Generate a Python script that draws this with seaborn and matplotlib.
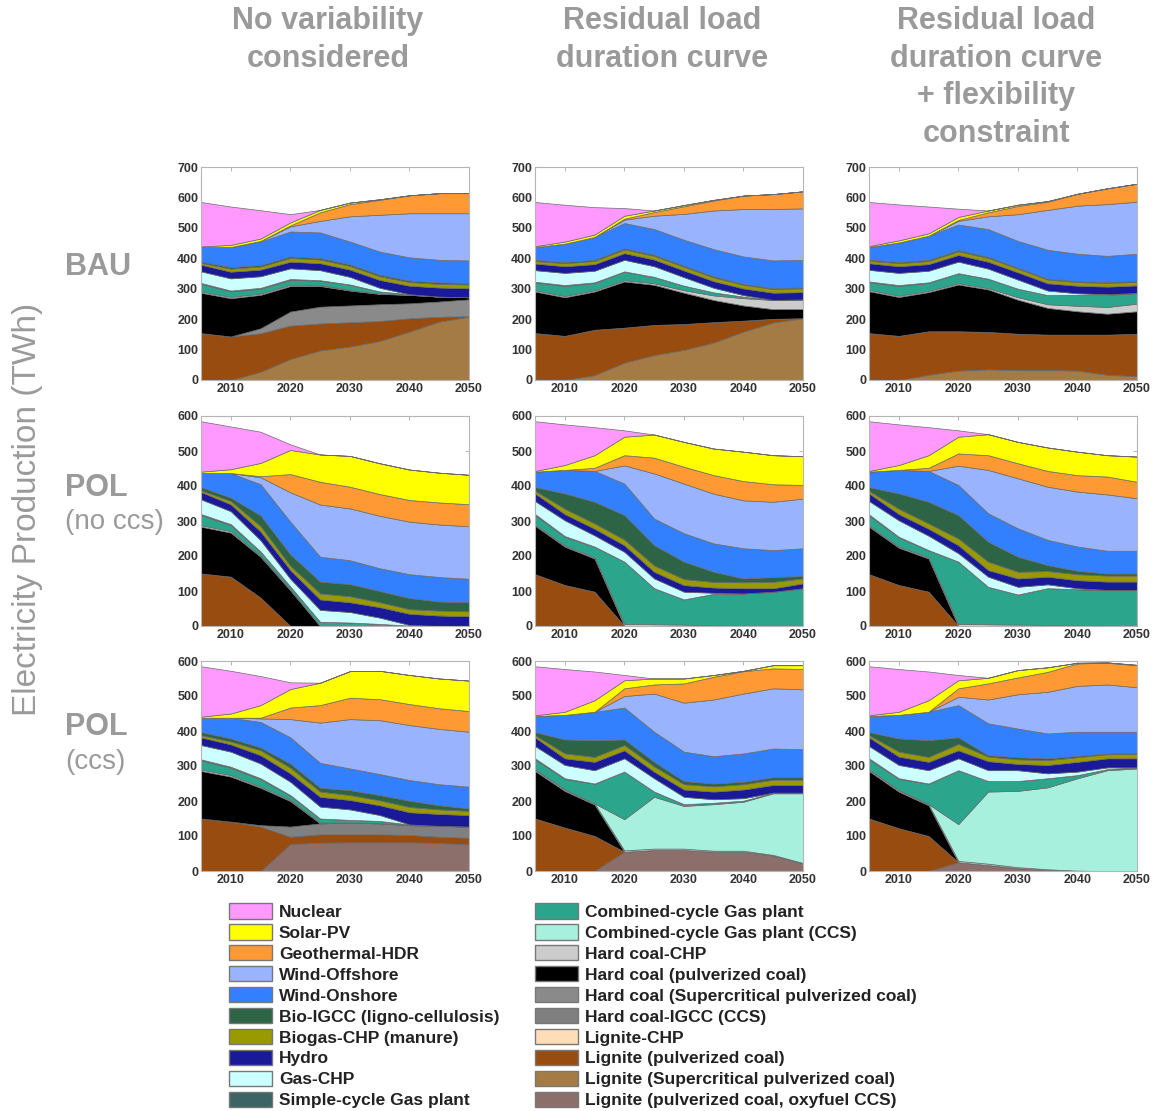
import seaborn as sns
import matplotlib.pyplot as plt
from matplotlib.patches import Patch

# years on the x axis
years = [2005, 2010, 2015, 2020, 2025, 2030, 2035, 2040, 2045, 2050]

# legend order (top of the stack first)
keys = ["nuc", "pv", "geo", "woff", "won", "bioigcc", "biogas", "hydro", "gaschp", "ocgt",
        "ccgt", "ccgt_ccs", "hc_chp", "hc_pc", "hc_sc", "hc_igcc", "lig_chp", "lig_pc",
        "lig_sc", "lig_oxy"]
labels = ["Nuclear", "Solar-PV", "Geothermal-HDR", "Wind-Offshore", "Wind-Onshore",
          "Bio-IGCC (ligno-cellulosis)", "Biogas-CHP (manure)", "Hydro", "Gas-CHP",
          "Simple-cycle Gas plant", "Combined-cycle Gas plant",
          "Combined-cycle Gas plant (CCS)", "Hard coal-CHP", "Hard coal (pulverized coal)",
          "Hard coal (Supercritical pulverized coal)", "Hard coal-IGCC (CCS)",
          "Lignite-CHP", "Lignite (pulverized coal)",
          "Lignite (Supercritical pulverized coal)", "Lignite (pulverized coal, oxyfuel CCS)"]
colors = ["#FF99FF", "#FFFF00", "#FF9933", "#99B3FF", "#3380FF", "#2D6446", "#999900",
          "#1A1A99", "#CCFFFF", "#3C6464", "#2CA58D", "#A8F0DE", "#CCCCCC", "#000000",
          "#8A8A8A", "#808080", "#FFDDB8", "#994C0F", "#A57B45", "#8C6F6B"]

# TWh per technology, one dict per scenario / model version
bau_novar = {
    "lig_sc": [0, 0, 27, 69, 97, 110, 128, 159, 192, 208],
    "lig_pc": [154, 143, 127, 110, 89, 80, 66, 44, 16, 2],
    "hc_sc": [0, 0, 16, 46, 55, 55, 55, 49, 50, 55],
    "hc_pc": [133, 126, 110, 84, 68, 49, 34, 28, 16, 7],
    "hc_chp": [4, 4, 4, 4, 3, 2, 1, 0, 0, 0],
    "ccgt": [25, 18, 16, 16, 14, 17, 7, 2, 0, 0],
    "ocgt": [3, 3, 3, 3, 2, 1, 0, 0, 0, 0],
    "gaschp": [38, 40, 38, 35, 33, 25, 12, 0, 0, 0],
    "hydro": [22, 22, 22, 22, 23, 24, 26, 28, 30, 30],
    "biogas": [6, 10, 10, 12, 12, 12, 12, 12, 12, 12],
    "bioigcc": [4, 5, 5, 5, 5, 5, 5, 5, 5, 5],
    "won": [48, 66, 77, 82, 84, 75, 76, 76, 74, 74],
    "woff": [0, 0, 2, 17, 38, 83, 121, 145, 153, 155],
    "geo": [0, 0, 0, 3, 28, 40, 49, 59, 66, 66],
    "pv": [2, 7, 8, 10, 8, 5, 2, 0, 0, 0],
    "nuc": [146, 126, 93, 27, 0, 0, 0, 0, 0, 0],
}
bau_rldc = {
    "lig_sc": [0, 0, 16, 57, 82, 99, 123, 159, 189, 203],
    "lig_pc": [154, 145, 149, 115, 99, 85, 67, 36, 12, 0],
    "hc_pc": [137, 127, 126, 152, 132, 103, 73, 50, 32, 30],
    "hc_chp": [4, 4, 4, 4, 5, 8, 15, 24, 30, 32],
    "ccgt": [25, 33, 24, 28, 20, 15, 10, 5, 0, 0],
    "ocgt": [3, 3, 2, 1, 1, 0, 0, 0, 0, 0],
    "gaschp": [38, 40, 38, 38, 35, 28, 15, 5, 0, 0],
    "hydro": [22, 22, 22, 22, 22, 22, 22, 22, 24, 24],
    "biogas": [8, 10, 10, 12, 12, 12, 12, 12, 12, 12],
    "bioigcc": [4, 4, 4, 4, 4, 4, 4, 3, 3, 3],
    "won": [42, 60, 75, 83, 84, 85, 89, 90, 91, 91],
    "woff": [0, 0, 0, 11, 44, 85, 127, 156, 169, 169],
    "geo": [0, 0, 0, 3, 12, 25, 33, 44, 49, 56],
    "pv": [3, 7, 8, 10, 5, 4, 2, 0, 0, 0],
    "nuc": [145, 121, 90, 25, 0, 0, 0, 0, 0, 0],
}
bau_flex = {
    "lig_sc": [0, 0, 17, 31, 35, 33, 33, 31, 17, 13],
    "lig_pc": [154, 145, 143, 129, 123, 119, 116, 118, 132, 139],
    "hc_pc": [138, 128, 129, 154, 140, 112, 88, 77, 69, 74],
    "hc_chp": [4, 4, 4, 4, 4, 8, 12, 18, 22, 25],
    "ccgt": [25, 32, 26, 32, 30, 28, 30, 36, 40, 35],
    "ocgt": [3, 3, 2, 1, 1, 0, 0, 0, 0, 0],
    "gaschp": [38, 40, 38, 38, 33, 30, 15, 5, 2, 0],
    "hydro": [22, 22, 22, 22, 23, 24, 24, 25, 25, 25],
    "biogas": [8, 10, 10, 12, 12, 12, 12, 12, 12, 12],
    "bioigcc": [4, 4, 4, 4, 4, 3, 3, 3, 3, 3],
    "won": [41, 64, 79, 84, 91, 88, 95, 90, 86, 89],
    "woff": [0, 0, 0, 12, 42, 88, 131, 158, 170, 171],
    "geo": [0, 0, 0, 3, 13, 27, 27, 39, 52, 59],
    "pv": [3, 7, 8, 10, 6, 4, 2, 0, 0, 0],
    "nuc": [145, 118, 88, 27, 0, 0, 0, 0, 0, 0],
}
pol_noccs_novar = {
    "lig_pc": [150, 141, 81, 0, 0, 0, 0, 0, 0, 0],
    "hc_pc": [134, 126, 117, 102, 0, 0, 0, 0, 0, 0],
    "hc_chp": [4, 4, 3, 3, 0, 0, 0, 0, 0, 0],
    "ccgt": [29, 17, 11, 8, 12, 10, 6, 1, 0, 0],
    "ocgt": [3, 3, 1, 0, 0, 0, 0, 0, 0, 0],
    "gaschp": [42, 37, 32, 22, 34, 30, 18, 2, 0, 0],
    "hydro": [21, 20, 25, 25, 30, 28, 30, 32, 30, 28],
    "biogas": [5, 9, 15, 12, 17, 17, 14, 13, 14, 14],
    "bioigcc": [9, 10, 31, 33, 34, 35, 32, 32, 26, 26],
    "won": [40, 70, 89, 93, 71, 68, 65, 68, 70, 67],
    "woff": [0, 0, 20, 84, 149, 148, 150, 150, 150, 150],
    "geo": [0, 0, 3, 52, 65, 62, 62, 62, 63, 63],
    "pv": [4, 11, 38, 69, 78, 88, 88, 87, 85, 84],
    "nuc": [144, 122, 89, 16, 0, 0, 0, 0, 0, 0],
}
pol_noccs_rldc = {
    "lig_pc": [148, 117, 98, 0, 0, 0, 0, 0, 0, 0],
    "hc_pc": [139, 110, 95, 0, 0, 0, 0, 0, 0, 0],
    "hc_chp": [3, 3, 3, 6, 5, 4, 2, 1, 0, 0],
    "ccgt": [27, 25, 30, 178, 103, 72, 90, 92, 98, 108],
    "ocgt": [3, 2, 1, 0, 0, 0, 0, 0, 0, 0],
    "gaschp": [37, 45, 32, 28, 28, 22, 3, 0, 0, 0],
    "hydro": [22, 18, 19, 19, 19, 19, 15, 15, 10, 14],
    "biogas": [7, 15, 15, 16, 18, 17, 16, 17, 18, 14],
    "bioigcc": [11, 44, 62, 70, 58, 50, 29, 11, 14, 7],
    "won": [44, 67, 88, 90, 76, 81, 81, 86, 77, 79],
    "woff": [0, 0, 0, 52, 129, 142, 142, 137, 138, 142],
    "geo": [0, 0, 9, 29, 45, 48, 53, 55, 50, 39],
    "pv": [2, 14, 36, 53, 66, 71, 76, 84, 83, 82],
    "nuc": [142, 116, 80, 18, 0, 0, 0, 0, 0, 0],
}
pol_noccs_flex = {
    "lig_pc": [148, 117, 98, 0, 0, 0, 0, 0, 0, 0],
    "hc_pc": [136, 107, 95, 0, 0, 0, 0, 0, 0, 0],
    "hc_chp": [3, 3, 3, 6, 5, 4, 3, 2, 1, 0],
    "ccgt": [29, 26, 20, 178, 107, 86, 105, 103, 102, 103],
    "ocgt": [3, 2, 1, 0, 0, 0, 0, 0, 0, 0],
    "gaschp": [38, 47, 41, 24, 29, 22, 11, 3, 0, 0],
    "hydro": [22, 18, 20, 23, 19, 24, 22, 23, 24, 24],
    "biogas": [7, 15, 15, 19, 24, 19, 16, 17, 17, 17],
    "bioigcc": [11, 44, 62, 67, 57, 43, 17, 10, 6, 6],
    "won": [44, 67, 88, 86, 81, 81, 72, 69, 65, 65],
    "woff": [0, 0, 0, 55, 124, 143, 152, 157, 161, 150],
    "geo": [0, 0, 9, 35, 42, 43, 45, 47, 51, 47],
    "pv": [2, 14, 36, 48, 60, 61, 67, 67, 61, 72],
    "nuc": [142, 116, 80, 18, 0, 0, 0, 0, 0, 0],
}
pol_ccs_novar = {
    "lig_oxy": [0, 0, 0, 77, 81, 82, 82, 82, 80, 76],
    "lig_pc": [150, 141, 127, 21, 24, 23, 23, 21, 18, 19],
    "hc_igcc": [0, 0, 4, 29, 31, 33, 31, 28, 31, 32],
    "hc_pc": [136, 129, 107, 73, 0, 0, 0, 0, 0, 0],
    "hc_chp": [4, 4, 3, 3, 2, 1, 1, 0, 0, 0],
    "ccgt": [26, 21, 21, 12, 11, 7, 6, 2, 0, 0],
    "ocgt": [3, 3, 3, 2, 1, 0, 0, 0, 0, 0],
    "gaschp": [41, 43, 42, 38, 34, 30, 17, 0, 0, 0],
    "hydro": [22, 21, 24, 24, 28, 27, 28, 35, 34, 33],
    "biogas": [6, 8, 14, 16, 15, 14, 14, 15, 13, 12],
    "bioigcc": [9, 9, 8, 12, 11, 14, 15, 18, 12, 7],
    "won": [41, 59, 73, 75, 71, 62, 60, 59, 60, 62],
    "woff": [0, 0, 10, 52, 115, 141, 154, 157, 158, 157],
    "geo": [0, 0, 2, 33, 50, 61, 60, 60, 59, 59],
    "pv": [3, 12, 36, 53, 64, 76, 81, 83, 85, 87],
    "nuc": [144, 122, 83, 19, 0, 0, 0, 0, 0, 0],
}
pol_ccs_rldc = {
    "lig_oxy": [0, 0, 0, 55, 60, 60, 55, 55, 44, 22],
    "lig_pc": [150, 124, 100, 0, 0, 0, 0, 0, 0, 0],
    "hc_pc": [136, 105, 90, 0, 0, 0, 0, 0, 0, 0],
    "hc_chp": [4, 4, 3, 4, 4, 4, 3, 3, 2, 1],
    "ccgt_ccs": [0, 0, 0, 89, 148, 122, 133, 140, 176, 199],
    "ccgt": [29, 30, 56, 136, 15, 5, 4, 3, 2, 2],
    "ocgt": [3, 2, 1, 0, 0, 0, 0, 0, 0, 0],
    "gaschp": [35, 38, 38, 38, 38, 21, 10, 7, 0, 0],
    "hydro": [25, 19, 24, 23, 19, 21, 22, 25, 22, 22],
    "biogas": [6, 14, 14, 15, 15, 15, 15, 15, 15, 15],
    "bioigcc": [9, 40, 48, 16, 13, 9, 8, 7, 7, 7],
    "won": [46, 70, 81, 91, 86, 84, 78, 81, 82, 80],
    "woff": [0, 0, 0, 33, 109, 140, 162, 171, 172, 171],
    "geo": [0, 0, 0, 22, 26, 55, 65, 64, 57, 58],
    "pv": [2, 9, 33, 23, 17, 14, 5, 1, 9, 11],
    "nuc": [140, 122, 82, 15, 0, 0, 0, 0, 0, 0],
}
pol_ccs_flex = {
    "lig_oxy": [0, 0, 0, 25, 17, 8, 3, 0, 0, 0],
    "lig_pc": [150, 122, 100, 0, 0, 0, 0, 0, 0, 0],
    "hc_pc": [136, 105, 88, 0, 0, 0, 0, 0, 0, 0],
    "hc_chp": [4, 4, 3, 4, 4, 3, 2, 1, 0, 0],
    "ccgt_ccs": [0, 0, 0, 105, 206, 218, 234, 264, 288, 293],
    "ccgt": [29, 32, 58, 154, 30, 28, 26, 9, 3, 3],
    "ocgt": [3, 2, 1, 0, 0, 0, 0, 0, 0, 0],
    "gaschp": [35, 38, 38, 34, 31, 31, 14, 10, 5, 0],
    "hydro": [25, 24, 24, 23, 26, 18, 24, 28, 26, 26],
    "biogas": [6, 14, 14, 18, 13, 13, 14, 13, 12, 12],
    "bioigcc": [9, 38, 48, 19, 4, 6, 5, 4, 2, 4],
    "won": [46, 67, 81, 92, 91, 82, 71, 69, 62, 60],
    "woff": [0, 0, 0, 24, 68, 98, 119, 131, 135, 127],
    "geo": [0, 0, 0, 24, 46, 48, 57, 64, 62, 63],
    "pv": [2, 9, 33, 23, 16, 21, 13, 2, 1, 1],
    "nuc": [140, 122, 82, 15, 0, 0, 0, 0, 0, 0],
}

col_titles = ["No variability\nconsidered", "Residual load\nduration curve",
              "Residual load\nduration curve\n+ flexibility\nconstraint"]
panels = [[bau_novar, bau_rldc, bau_flex],
          [pol_noccs_novar, pol_noccs_rldc, pol_noccs_flex],
          [pol_ccs_novar, pol_ccs_rldc, pol_ccs_flex]]
ymax = [700, 600, 600]

sns.set_theme(style="white")
plt.rcParams["font.family"] = ["Liberation Sans", "DejaVu Sans"]

W, H = 1156, 1111
fig = plt.figure(figsize=(W / 100, H / 100), dpi=100)
grey = "#9a9a9a"

col_left = [201, 535, 869]
row_box = [(167, 380), (416, 626), (661, 871)]
color_of = dict(zip(keys, colors))

for r in range(3):
    top, bot = row_box[r]
    for c in range(3):
        ax = fig.add_axes([col_left[c] / W, 1 - bot / H, 268 / W, (bot - top) / H])
        data = panels[r][c]
        stack = [k for k in reversed(keys) if k in data]
        ax.stackplot(years, [data[k] for k in stack],
                     colors=[color_of[k] for k in stack],
                     edgecolor="#6a6a6a", linewidth=0.5)
        ax.set_xlim(2005, 2050)
        ax.set_ylim(0, ymax[r])
        ax.set_xticks([2010, 2020, 2030, 2040, 2050],
                      labels=["2010", "2020", "2030", "2040", "2050"],
                      fontsize=9, fontweight="bold", color="#333333")
        yt = list(range(0, ymax[r] + 1, 100))
        ax.set_yticks(yt, labels=[str(v) for v in yt],
                      fontsize=9, fontweight="bold", color="#333333")
        ax.tick_params(direction="in", top=True, right=True, length=3,
                       width=0.6, color="#aaaaaa", pad=2)
        for s in ax.spines.values():
            s.set_color("#b5b5b5")
            s.set_linewidth(0.8)

# column headers
for c, t in enumerate(col_titles):
    fig.text((col_left[c] + 127) / W, 1 - 6 / H, t,
             ha="center", va="top", fontsize=22, fontweight="bold",
             color=grey, linespacing=1.33)

# row headers
fig.text(65 / W, 1 - 267 / H, "BAU", ha="left", va="center",
         fontsize=22, fontweight="bold", color=grey)
fig.text(65 / W, 1 - 488 / H, "POL", ha="left", va="center",
         fontsize=22, fontweight="bold", color=grey)
fig.text(65 / W, 1 - 522 / H, "(no ccs)", ha="left", va="center",
         fontsize=20, color=grey)
fig.text(65 / W, 1 - 727 / H, "POL", ha="left", va="center",
         fontsize=22, fontweight="bold", color=grey)
fig.text(65 / W, 1 - 762 / H, "(ccs)", ha="left", va="center",
         fontsize=20, color=grey)

fig.text(28 / W, 1 - 509 / H, "Electricity Production (TWh)", rotation=90,
         ha="center", va="center", fontsize=24, color=grey)

# legend, two columns of ten
handles = [Patch(facecolor=col, edgecolor="#777777", linewidth=1, label=lab)
           for col, lab in zip(colors, labels)]
leg_kw = dict(loc="upper left", frameon=False, borderpad=0, borderaxespad=0,
              handlelength=2.47, handleheight=1.0, handletextpad=0.4,
              labelspacing=0.245, prop={"size": 12.5, "weight": "bold"},
              labelcolor="#222222")
fig.legend(handles=handles[:10], bbox_to_anchor=(229 / W, 1 - 903 / H), **leg_kw)
fig.legend(handles=handles[10:], bbox_to_anchor=(535 / W, 1 - 903 / H), **leg_kw)

plt.savefig("out.png", dpi=100)
